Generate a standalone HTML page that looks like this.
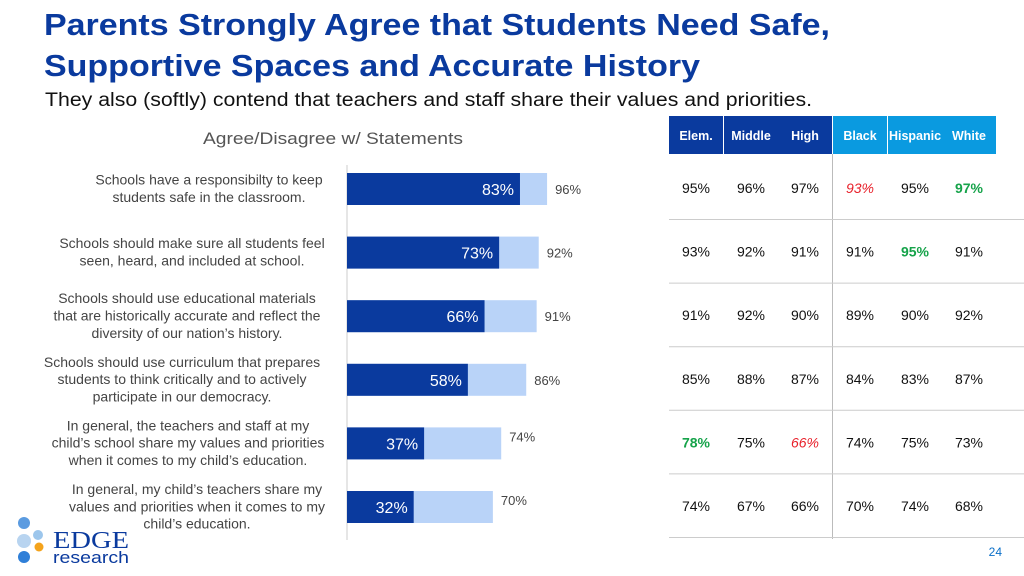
<!DOCTYPE html>
<html><head><meta charset="utf-8"><style>
html,body{margin:0;padding:0;background:#fff;width:1024px;height:576px;overflow:hidden}
svg{display:block}
</style></head><body>
<svg id="chart" width="1024" height="576" viewBox="0 0 1024 576" font-family="Liberation Sans, Arial, sans-serif">
<text x="44" y="35" font-size="31" font-weight="bold" fill="#0a3a9e" textLength="786" lengthAdjust="spacingAndGlyphs">Parents Strongly Agree that Students Need Safe,</text>
<text x="44" y="76" font-size="31" font-weight="bold" fill="#0a3a9e" textLength="656" lengthAdjust="spacingAndGlyphs">Supportive Spaces and Accurate History</text>
<text x="45" y="106" font-size="19" fill="#111" textLength="767" lengthAdjust="spacingAndGlyphs">They also (softly) contend that teachers and staff share their values and priorities.</text>
<text x="333" y="144" font-size="17" fill="#555" text-anchor="middle" textLength="260" lengthAdjust="spacingAndGlyphs">Agree/Disagree w/ Statements</text>
<line x1="347" y1="165" x2="347" y2="540" stroke="#ddd" stroke-width="1.5"/>
<g id="bars"></g>
<g id="table"></g>
<g>
<circle cx="24" cy="523" r="6" fill="#5b9be0"/>
<circle cx="24" cy="541" r="7" fill="#b8d4f0"/>
<circle cx="38" cy="535" r="5" fill="#9cc6ec"/>
<circle cx="39" cy="547" r="4.5" fill="#f4a31c"/>
<circle cx="24" cy="557" r="6" fill="#2f7fd8"/>
<text x="53" y="548" font-size="24" fill="#0a3a9e" font-family="Liberation Serif, serif" textLength="76" lengthAdjust="spacingAndGlyphs">EDGE</text>
<text x="53" y="563" font-size="17" fill="#0a3a9e" textLength="76" lengthAdjust="spacingAndGlyphs">research</text>
</g>
<text x="1002" y="556" font-size="12" fill="#0a6fc8" text-anchor="end">24</text>
</svg>
<script>
const statements=[
["Schools have a responsibilty to keep","students safe in the classroom."],
["Schools should make sure all students feel","seen, heard, and included at school."],
["Schools should use educational materials","that are historically accurate and reflect the","diversity of our nation’s history."],
["Schools should use curriculum that prepares","students to think critically and to actively","participate in our democracy."],
["In general, the teachers and staff at my","child’s school share my values and priorities","when it comes to my child’s education."],
["In general, my child’s teachers share my","values and priorities when it comes to my","child’s education."]];
const strongly=[83,73,66,58,37,32];
const total=[96,92,91,86,74,70];
const columns=["Elem.","Middle","High","Black","Hispanic","White"];
const tableValues=[
[95,96,97,93,95,97],
[93,92,91,91,95,91],
[91,92,90,89,90,92],
[85,88,87,84,83,87],
[78,75,66,74,75,73],
[74,67,66,70,74,68]];
const highlights=[
["","","","red","","green"],
["","","","","green",""],
["","","","","",""],
["","","","","",""],
["green","","red","","",""],
["","","","","",""]];

const NS="http://www.w3.org/2000/svg";
function mk(tag,attrs,parent,txt){const e=document.createElementNS(NS,tag);for(const k in attrs)e.setAttribute(k,attrs[k]);if(txt!==undefined)e.textContent=txt;parent.appendChild(e);return e;}
const x0=347,pxPer=2.084;
const xs=v=>x0+v*pxPer;
const rowY=i=>189+i*63.6;
const labelCx=[209,192,187,182,188,197];
const bars=document.getElementById('bars');
statements.forEach((lines,i)=>{
  const cy=rowY(i);
  const lb=mk('rect',{x:x0,y:cy-16,width:xs(total[i])-x0,height:32,fill:'#b9d3f8'},bars);
  
  
  const db=mk('rect',{x:x0,y:cy-16,width:xs(strongly[i])-x0,height:32,fill:'#0a3a9e'},bars);
  
  
  const dt=mk('text',{x:xs(strongly[i])-6,y:cy+6,'font-size':16,fill:'#fff','text-anchor':'end'},bars,strongly[i]+'%');
  
  
  const tt=mk('text',{x:xs(total[i])+8,y:cy+(i>=4?-2:5),'font-size':13,fill:'#444'},bars,total[i]+'%');
  
  
  const n=lines.length, lh=17.3;
  const g=mk('text',{'font-size':14,fill:'#444','text-anchor':'middle'},bars);
  
  
  const y0=n===2?cy-4.5:cy-13;
  lines.forEach((l,j)=>{mk('tspan',{x:labelCx[i],y:y0+j*lh},g,l);});
});
const tb=document.getElementById('table');
const colX=[669,724,778,833,888,942], colW=54;
columns.forEach((c,k)=>{
  const r=mk('rect',{x:colX[k],y:116,width:colW,height:38,fill:k<3?'#0a3a9e':'#0a9ae0'},tb);
  
  
  const t=mk('text',{x:colX[k]+colW/2,y:140,'font-size':12.5,'font-weight':'bold',fill:'#fff','text-anchor':'middle'},tb,c);
  
  
});
const dv=mk('line',{x1:832.5,y1:154,x2:832.5,y2:539,stroke:'#bbb','stroke-width':1},tb);


tableValues.forEach((row,i)=>{
  const cy=rowY(i);
  const sep=mk('line',{x1:669,y1:cy+30.5,x2:1024,y2:cy+30.5,stroke:'#ccc','stroke-width':1},tb);
  
  
  row.forEach((v,k)=>{
    const h=highlights[i][k];
    const a={x:colX[k]+colW/2,y:cy+4,'font-size':14,'text-anchor':'middle',fill:h==='red'?'#e8202a':h==='green'?'#16a34a':'#111'};
    if(h==='red')a['font-style']='italic';
    if(h==='green')a['font-weight']='bold';
    const t=mk('text',a,tb,v+'%');
    
    
  });
});
</script>
</body></html>
